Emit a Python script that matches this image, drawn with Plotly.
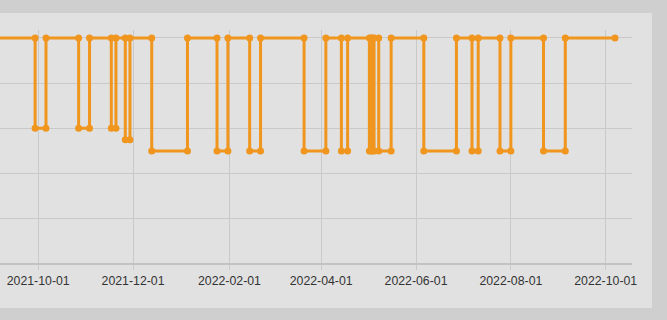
import plotly.graph_objects as go

dates = [
    "2021-08-25",
    "2021-09-29", "2021-09-29", "2021-10-06", "2021-10-06",
    "2021-10-27", "2021-10-27", "2021-11-03", "2021-11-03",
    "2021-11-17", "2021-11-17", "2021-11-20", "2021-11-20",
    "2021-11-26", "2021-11-26", "2021-11-29", "2021-11-29",
    "2021-12-13", "2021-12-13", "2022-01-05", "2022-01-05",
    "2022-01-24", "2022-01-24", "2022-01-31", "2022-01-31",
    "2022-02-14", "2022-02-14", "2022-02-21", "2022-02-21",
    "2022-03-21", "2022-03-21", "2022-04-04", "2022-04-04",
    "2022-04-14", "2022-04-14", "2022-04-18", "2022-04-18",
    "2022-05-02", "2022-05-02", "2022-05-03", "2022-05-03",
    "2022-05-04", "2022-05-04", "2022-05-05", "2022-05-05",
    "2022-05-08", "2022-05-08", "2022-05-16", "2022-05-16",
    "2022-06-06", "2022-06-06", "2022-06-27", "2022-06-27",
    "2022-07-07", "2022-07-07", "2022-07-11", "2022-07-11",
    "2022-07-25", "2022-07-25", "2022-08-01", "2022-08-01",
    "2022-08-22", "2022-08-22", "2022-09-05", "2022-09-05",
    "2022-10-07",
]
values = [
    100,
    100, 60, 60, 100,
    100, 60, 60, 100,
    100, 60, 60, 100,
    100, 55, 55, 100,
    100, 50, 50, 100,
    100, 50, 50, 100,
    100, 50, 50, 100,
    100, 50, 50, 100,
    100, 50, 50, 100,
    100, 50, 50, 100,
    100, 50, 50, 100,
    100, 50, 50, 100,
    100, 50, 50, 100,
    100, 50, 50, 100,
    100, 50, 50, 100,
    100, 50, 50, 100,
    100,
]
tick_vals = ["2021-10-01", "2021-12-01", "2022-02-01", "2022-04-01",
             "2022-06-01", "2022-08-01", "2022-10-01"]
tick_text = tick_vals
x_range = ["2021-09-06 10:00", "2022-10-17 22:00"]
y_range = [0, 103.5]

ORANGE = "#F0961E"
CARD = "#E1E1E1"
OUTER = "#CFCFCF"
GRID = "#C9C9C9"

fig = go.Figure()
fig.add_trace(go.Scatter(
    x=dates, y=values, mode="lines+markers",
    line=dict(color=ORANGE, width=3),
    marker=dict(color=ORANGE, size=7),
    cliponaxis=False, showlegend=False, hoverinfo="skip",
))

# card background extending beyond plot area
fig.add_shape(type="rect", xref="paper", yref="paper",
              x0=-0.2, x1=652 / 632, y0=(264 - 308) / 234, y1=(264 - 13) / 234,
              fillcolor=CARD, line=dict(width=0), layer="below")

fig.update_layout(
    width=667, height=320,
    margin=dict(l=0, r=35, t=30, b=56),
    paper_bgcolor=OUTER, plot_bgcolor=CARD,
    font=dict(family="Liberation Sans, Arial, sans-serif", size=12.3, color="#333333"),
    xaxis=dict(
        type="date", range=x_range, tickvals=tick_vals, ticktext=tick_text,
        showgrid=True, gridcolor=GRID, gridwidth=1,
        ticks="outside", ticklen=5, tickcolor=GRID,
        showline=False, zeroline=False,
    ),
    yaxis=dict(
        range=y_range, dtick=20, showticklabels=False,
        showgrid=True, gridcolor=GRID, gridwidth=1,
        zeroline=True, zerolinecolor="#C2C2C2", zerolinewidth=2,
        showline=False,
    ),
)

fig.write_html("out.html")
